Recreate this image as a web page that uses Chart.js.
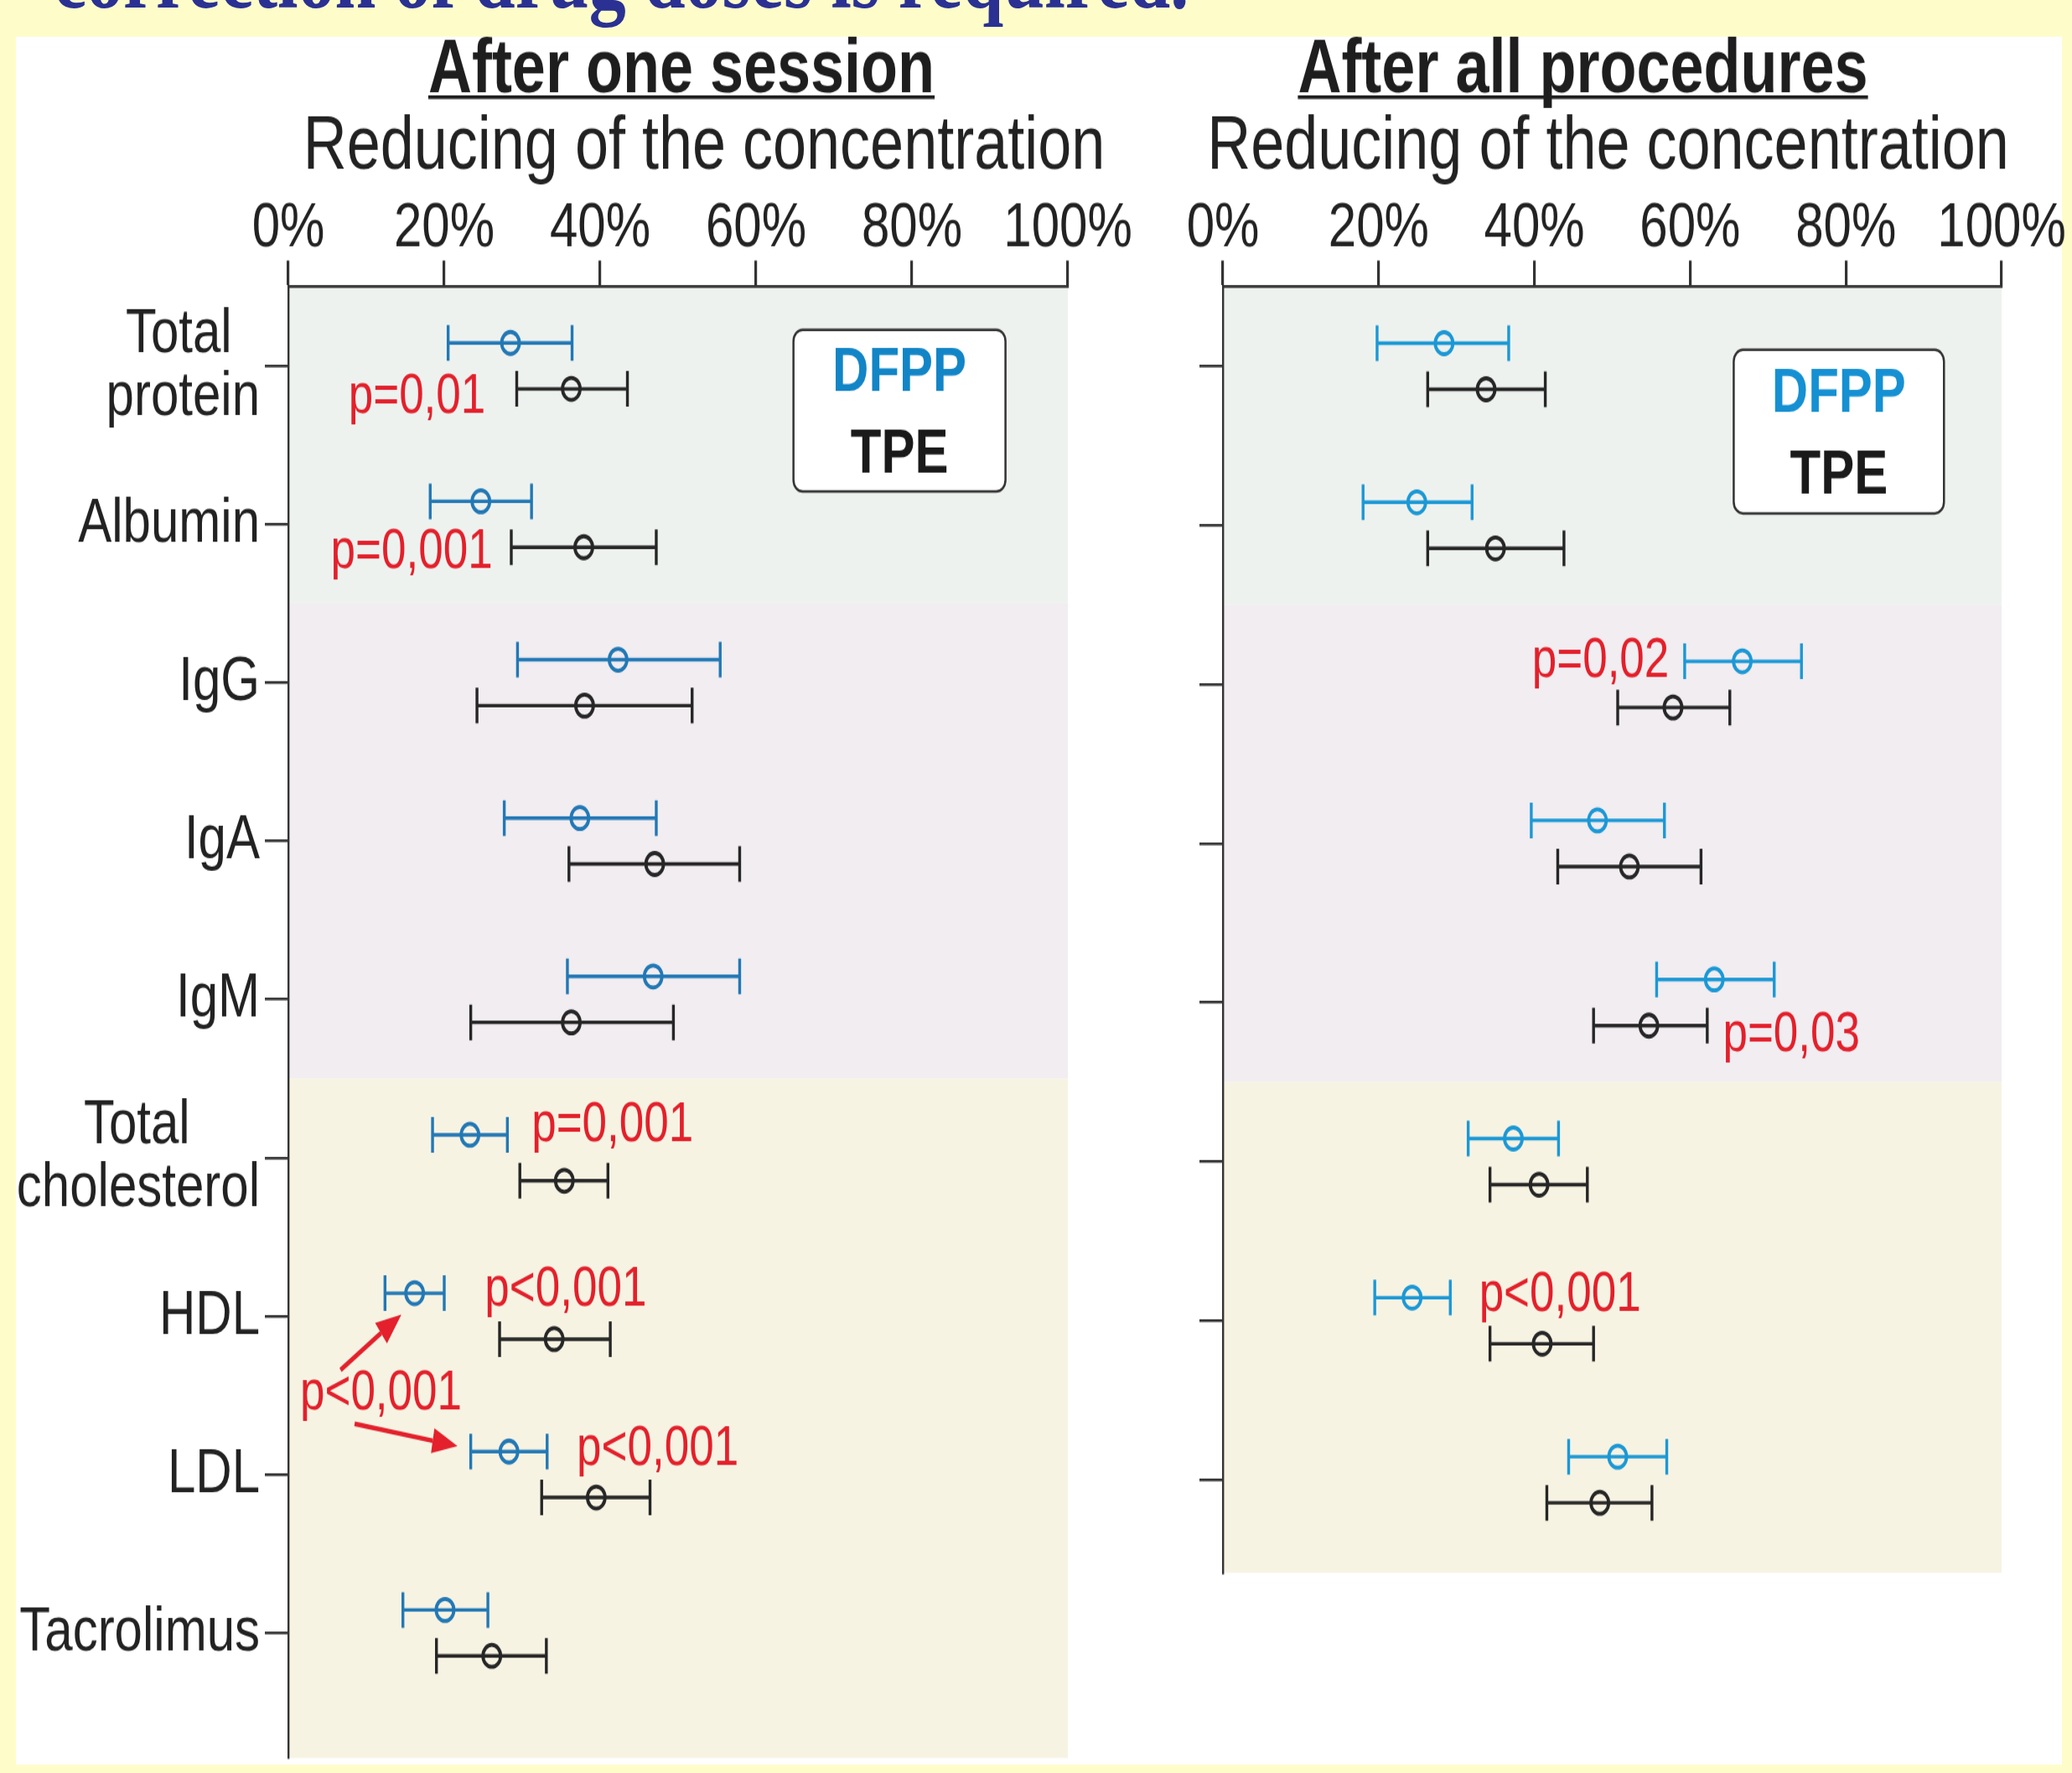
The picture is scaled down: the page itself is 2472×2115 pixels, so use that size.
<!DOCTYPE html>
<html>
<head>
<meta charset="utf-8">
<title>DFPP vs TPE</title>
<script src="https://cdn.jsdelivr.net/npm/chart.js@4.4.1/dist/chart.umd.min.js"></script>
<style>
  html, body { margin: 0; padding: 0; background: #fefdca; overflow: hidden; }
  body { width: 2472px; height: 2115px; position: relative; }
  /* the source picture is stretched vertically, so draw everything at 1/1.25 height and stretch it */
  #stage { position: absolute; left: 0; top: 0; width: 2472px; height: 1692px; transform: scaleY(1.25); transform-origin: 0 0; }
  #panel { position: absolute; left: 19px; top: 35px; width: 2441px; height: 1649px; background: #fff; }
  #heading { position: absolute; left: 64px; top: -66px; font: bold 88px "Liberation Serif", "Times New Roman", serif; line-height: 88px; color: #2a3192; white-space: nowrap; }
  .box { position: absolute; top: 0; height: 1692px; }
  #leftBox { left: 0; width: 1380px; }
  #rightBox { left: 1300px; width: 1172px; }
</style>
</head>
<body>
<div id="stage">
  <div id="panel"></div>
  <div id="heading">correction of drug doses is required.</div>
  <div class="box" id="leftBox"><canvas id="sessionChart"></canvas></div>
  <div class="box" id="rightBox"><canvas id="allChart"></canvas></div>
</div>
<script>
// ---- data (percent reduction of the concentration, mean and range) ----
const categories = ['Total protein', 'Albumin', 'IgG', 'IgA', 'IgM', 'Total cholesterol', 'HDL', 'LDL', 'Tacrolimus'];
const percentTicks = [0, 20, 40, 60, 80, 100];

// after one session
const sessionDfppMean = [28.5, 24.7, 42.3, 37.4, 46.8, 23.3, 16.2, 28.3, 20.1];
const sessionDfppLow  = [20.5, 18.2, 29.4, 27.7, 35.8, 18.5, 12.4, 23.4, 14.7];
const sessionDfppHigh = [36.4, 31.2, 55.4, 47.2, 57.9, 28.1, 20.0, 33.2, 25.6];
const sessionTpeMean  = [36.3, 37.9, 38.0, 47.0, 36.3, 35.4, 34.1, 39.5, 26.1];
const sessionTpeLow   = [29.3, 28.6, 24.2, 36.0, 23.4, 29.7, 27.1, 32.5, 19.0];
const sessionTpeHigh  = [43.5, 47.2, 51.8, 57.9, 49.4, 41.0, 41.3, 46.4, 33.1];

// after all procedures (no tacrolimus)
const allDfppMean = [28.4, 24.9, 66.7, 48.1, 63.1, 37.3, 24.3, 50.7];
const allDfppLow  = [19.8, 18.0, 59.3, 39.6, 55.7, 31.5, 19.5, 44.4];
const allDfppHigh = [36.7, 32.0, 74.3, 56.7, 70.8, 43.1, 29.2, 57.0];
const allTpeMean  = [33.8, 35.0, 57.8, 52.2, 54.7, 40.6, 41.0, 48.4];
const allTpeLow   = [26.3, 26.3, 50.7, 43.0, 47.6, 34.3, 34.3, 41.6];
const allTpeHigh  = [41.4, 43.8, 65.1, 61.4, 62.2, 46.8, 47.6, 55.1];

const sessionNotes = [
  { text: 'p=0,01',  x: 25.3, y: 0.20, align: 'right' },
  { text: 'p=0,001', x: 26.2, y: 1.18, align: 'right' },
  { text: 'p=0,001', x: 31.2, y: 4.80, align: 'left' },
  { text: 'p<0,001', x: 25.2, y: 5.84, align: 'left' },
  { text: 'p<0,001', x: 1.5,  y: 6.49, align: 'left' },
  { text: 'p<0,001', x: 37.0, y: 6.84, align: 'left' }
];
const sessionArrows = [
  { from: [6.7, 6.34], to: [14.5, 5.99] },
  { from: [8.5, 6.68], to: [21.7, 6.82] }
];
const allNotes = [
  { text: 'p=0,02',  x: 57.3, y: 1.86, align: 'right' },
  { text: 'p=0,03',  x: 64.2, y: 4.21, align: 'left' },
  { text: 'p<0,001', x: 32.9, y: 5.84, align: 'left' }
];

const FONT = '"Liberation Sans", Arial, Helvetica, sans-serif';
Chart.defaults.font.family = FONT;
Chart.defaults.color = '#222';

const ROW = 0.145;   // vertical shift of the two series around a category
const RED = '#e3202b';

// two-line labels: lines centred on each other, block right aligned
const measureCtx = document.createElement('canvas').getContext('2d');
measureCtx.font = '60px ' + FONT;
function splitName(name) {
  const parts = name.split(' ');
  if (parts.length < 2) return name;
  const lines = [parts[0], parts.slice(1).join(' ')];
  const widths = lines.map(l => measureCtx.measureText(l).width);
  const maxW = Math.max(...widths);
  const space = measureCtx.measureText('\u00a0').width;
  return lines.map((l, i) => l + '\u00a0'.repeat(Math.round((maxW - widths[i]) / 2 / space)));
}

// coloured group bands behind the plot
const bandPlugin = {
  id: 'bands',
  beforeDraw(chart, args, opts) {
    const { ctx, chartArea, scales: { y } } = chart;
    ctx.save();
    opts.list.forEach(b => {
      const top = Math.max(y.getPixelForValue(b.from), chartArea.top);
      const bottom = Math.min(y.getPixelForValue(b.to), chartArea.bottom);
      ctx.fillStyle = b.color;
      ctx.fillRect(chartArea.left, top, chartArea.right - chartArea.left, bottom - top);
    });
    ctx.restore();
  }
};

// min-max whiskers
const errorBarPlugin = {
  id: 'errorBars',
  beforeDatasetsDraw(chart) {
    const { ctx, scales: { x, y } } = chart;
    chart.data.datasets.forEach(ds => {
      ctx.save();
      ctx.strokeStyle = ds.borderColor;
      ctx.lineWidth = 3.4;
      ds.data.forEach((p, i) => {
        const x0 = x.getPixelForValue(ds.low[i]);
        const x1 = x.getPixelForValue(ds.high[i]);
        const py = y.getPixelForValue(p.y);
        ctx.beginPath();
        ctx.moveTo(x0, py); ctx.lineTo(x1, py);
        ctx.moveTo(x0, py - 17); ctx.lineTo(x0, py + 17);
        ctx.moveTo(x1, py - 17); ctx.lineTo(x1, py + 17);
        ctx.stroke();
      });
      ctx.restore();
    });
  }
};

// underlined panel title + axis caption
const headingPlugin = {
  id: 'heading',
  afterDraw(chart, args, opts) {
    const { ctx, chartArea } = chart;
    const mid = (chartArea.left + chartArea.right) / 2;
    ctx.save();
    ctx.fillStyle = '#1e1e1e';
    ctx.textAlign = 'center';
    ctx.textBaseline = 'alphabetic';
    ctx.font = 'bold 72px ' + FONT;
    const tx = mid + opts.titleShift;
    ctx.fillText(opts.title, tx, 88);
    const w = ctx.measureText(opts.title).width;
    ctx.fillRect(tx - w / 2, 91, w, 3.5);
    ctx.fillStyle = '#222';
    ctx.font = '72px ' + FONT;
    ctx.fillText(opts.caption, mid + opts.captionShift, 161);
    ctx.restore();
  }
};

// boxed legend with the series names
const legendBoxPlugin = {
  id: 'legendBox',
  afterDraw(chart, args, opts) {
    const { ctx, scales: { x, y } } = chart;
    const l = x.getPixelForValue(opts.x0), r = x.getPixelForValue(opts.x1);
    const t = y.getPixelForValue(opts.y0), b = y.getPixelForValue(opts.y1);
    ctx.save();
    ctx.fillStyle = '#fff';
    ctx.strokeStyle = '#333';
    ctx.lineWidth = 2.5;
    ctx.beginPath();
    ctx.roundRect(l, t, r - l, b - t, 11);
    ctx.fill();
    ctx.stroke();
    ctx.font = 'bold 60px ' + FONT;
    ctx.textAlign = 'center';
    ctx.textBaseline = 'middle';
    chart.data.datasets.forEach((ds, i) => {
      ctx.fillStyle = opts.colors[i];
      ctx.fillText(ds.label, (l + r) / 2, t + (b - t) * (0.27 + 0.505 * i));
    });
    ctx.restore();
  }
};

// p-values and arrows
const notePlugin = {
  id: 'notes',
  afterDraw(chart, args, opts) {
    const { ctx, scales: { x, y } } = chart;
    ctx.save();
    ctx.fillStyle = RED;
    ctx.strokeStyle = RED;
    ctx.font = '53px ' + FONT;
    ctx.textBaseline = 'middle';
    opts.notes.forEach(n => {
      ctx.textAlign = n.align;
      ctx.fillText(n.text, x.getPixelForValue(n.x), y.getPixelForValue(n.y));
    });
    ctx.lineWidth = 4.5;
    (opts.arrows || []).forEach(a => {
      const x0 = x.getPixelForValue(a.from[0]), y0 = y.getPixelForValue(a.from[1]);
      const x1 = x.getPixelForValue(a.to[0]), y1 = y.getPixelForValue(a.to[1]);
      const ang = Math.atan2(y1 - y0, x1 - x0);
      const hl = 30, hw = 12;
      const bx = x1 - hl * Math.cos(ang), by = y1 - hl * Math.sin(ang);
      ctx.beginPath();
      ctx.moveTo(x0, y0); ctx.lineTo(bx, by);
      ctx.stroke();
      ctx.beginPath();
      ctx.moveTo(x1, y1);
      ctx.lineTo(bx + hw * Math.sin(ang), by - hw * Math.cos(ang));
      ctx.lineTo(bx - hw * Math.sin(ang), by + hw * Math.cos(ang));
      ctx.closePath();
      ctx.fill();
    });
    ctx.restore();
  }
};

function buildChart(id, o) {
  const names = o.names;
  const datasets = [
    { label: 'DFPP', data: o.dfpp.map((v, i) => ({ x: v, y: i - ROW })), low: o.dfppLow, high: o.dfppHigh, borderColor: o.blue },
    { label: 'TPE', data: o.tpe.map((v, i) => ({ x: v, y: i + ROW })), low: o.tpeLow, high: o.tpeHigh, borderColor: '#262626' }
  ].map(d => Object.assign(d, {
    backgroundColor: 'rgba(0,0,0,0)', pointRadius: 10.5, pointHoverRadius: 10.5, pointBorderWidth: 3.8
  }));

  return new Chart(document.getElementById(id), {
    type: 'scatter',
    data: { datasets: datasets },
    options: {
      responsive: true,
      maintainAspectRatio: false,
      animation: false,
      events: [],
      layout: { padding: { left: 0, top: 0, right: o.padRight, bottom: o.padBottom } },
      plugins: {
        legend: { display: false },
        tooltip: { enabled: false },
        bands: { list: [
          { from: -0.5, to: 1.5, color: '#eef2ef' },
          { from: 1.5, to: 4.5, color: '#f1edf1' },
          { from: 4.5, to: 20, color: '#f7f3e3' }
        ] },
        heading: { title: o.title, titleShift: o.titleShift, caption: 'Reducing of the concentration', captionShift: o.captionShift },
        legendBox: o.legend,
        notes: { notes: o.notes, arrows: o.arrows }
      },
      scales: {
        x: {
          type: 'linear',
          position: 'top',
          min: 0,
          max: 100,
          afterBuildTicks: s => { s.ticks = percentTicks.map(v => ({ value: v })); },
          afterFit: s => { s.height = 273.6; s.paddingLeft = 0; s.paddingRight = 0; },
          ticks: { callback: v => v + '%', font: { size: 60, lineHeight: 1 }, color: '#222', padding: 0, maxRotation: 0, autoSkip: false },
          grid: { drawOnChartArea: false, tickLength: 25, lineWidth: 3.2, color: '#333' },
          border: { color: '#333', width: 2.8 }
        },
        y: {
          type: 'linear',
          reverse: true,
          min: -0.5,
          max: o.yMax,
          afterBuildTicks: s => { s.ticks = names.map((n, i) => ({ value: i })); },
          afterFit: s => { s.width = o.yWidth; s.paddingTop = 0; s.paddingBottom = 0; },
          ticks: {
            autoSkip: false,
            padding: 6,
            color: '#222',
            font: { size: 60, lineHeight: 1 },
            callback: v => (o.showNames ? splitName(names[v]) : '')
          },
          grid: { drawOnChartArea: false, tickLength: 28, lineWidth: 2.6, color: '#333' },
          border: { color: '#333', width: 2.4 }
        }
      }
    },
    plugins: [bandPlugin, errorBarPlugin, headingPlugin, legendBoxPlugin, notePlugin]
  });
}

buildChart('sessionChart', {
  names: categories,
  showNames: true,
  dfpp: sessionDfppMean, dfppLow: sessionDfppLow, dfppHigh: sessionDfppHigh,
  tpe: sessionTpeMean, tpeLow: sessionTpeLow, tpeHigh: sessionTpeHigh,
  blue: '#2278b5',
  title: 'After one session', titleShift: 4, captionShift: 31,
  yWidth: 344, yMax: 8.79, padRight: 106, padBottom: 8,
  legend: { x0: 64.8, x1: 92.0, y0: -0.228, y1: 0.793, colors: ['#1285c6', '#1a1a1a'] },
  notes: sessionNotes, arrows: sessionArrows
});

buildChart('allChart', {
  names: categories.slice(0, 8),
  showNames: false,
  dfpp: allDfppMean, dfppLow: allDfppLow, dfppHigh: allDfppHigh,
  tpe: allTpeMean, tpeLow: allTpeLow, tpeHigh: allTpeHigh,
  blue: '#1b98d5',
  title: 'After all procedures', titleShift: -35, captionShift: -5,
  yWidth: 159, yMax: 7.584, padRight: 84, padBottom: 191.2,
  legend: { x0: 65.6, x1: 92.6, y0: -0.103, y1: 0.925, colors: ['#1590d2', '#1a1a1a'] },
  notes: allNotes, arrows: []
});
</script>
</body>
</html>
